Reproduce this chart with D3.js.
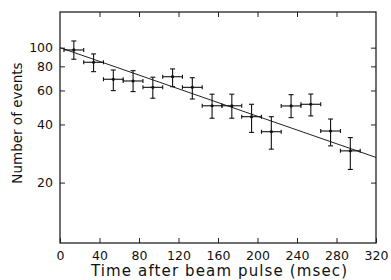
<!DOCTYPE html>
<html lang="en">
    <head>
        <meta charset="utf-8">
        <title>Events vs time</title>
        <script type="text/javascript" src="https://cdn.jsdelivr.net/npm/d3@7"></script>
        <style>
        body { margin: 0; background: #fff; }
        svg { display: block; }
        .axis path, .axis line { stroke: #222; }
        .axis text { font-family: "DejaVu Sans", sans-serif; font-size: 12.5px; fill: #111; }
        </style>
    </head>
    <body>
        <script type="text/javascript">
            // values
            var times = [14, 34, 54, 74, 94, 114, 134, 154, 174, 194, 214, 234, 254, 274, 294];
            var counts = [97.3, 84, 68.6, 67.2, 62.3, 70.7, 62.3, 50, 50, 43.9, 36.7, 49.9, 50.9, 37, 29.2];
            var countsHigh = [108.3, 92.8, 76.6, 76.0, 70.3, 77.6, 69.9, 57.4, 57.4, 50.9, 43.9, 57.1, 57.5, 42.7, 34.2];
            var countsLow = [87.1, 75.1, 59.9, 59.2, 54.7, 62.8, 54.2, 43.1, 43.1, 36.4, 29.8, 43.4, 44.3, 31.0, 23.4];
            var timeHalfWidth = 10;

            var fitTimes = [0, 320];
            var fitCounts = [100, 27];

            var xTicks = [0, 40, 80, 120, 160, 200, 240, 280, 320];
            var yTicks = [20, 40, 60, 80, 100];

            var w = 391;
            var h = 280;
            var pLeft = 60, pRight = 376, pTop = 12, pBottom = 243;

            var svg = d3.select("body")
                        .append("svg")
                        .attr("width", w)
                        .attr("height", h);

            var xScale = d3.scaleLinear()
                           .domain([0, 320])
                           .range([pLeft, pRight]);

            var yScale = d3.scaleLog()
                           .domain([9.73, 153])
                           .range([pBottom, pTop]);

            // frame
            svg.append("rect")
               .attr("x", pLeft)
               .attr("y", pTop)
               .attr("width", pRight - pLeft)
               .attr("height", pBottom - pTop)
               .attr("fill", "none")
               .attr("stroke", "#222")
               .attr("stroke-width", 1.3);

            var xAxis = d3.axisBottom(xScale)
                          .tickValues(xTicks)
                          .tickSize(-5)
                          .tickPadding(8)
                          .tickFormat(d3.format("d"));

            svg.append("g")
               .attr("class", "axis")
               .attr("transform", "translate(0," + pBottom + ")")
               .call(xAxis)
               .call(function(g) { g.select(".domain").remove(); });

            svg.append("g")
               .attr("class", "axis")
               .attr("transform", "translate(0," + pTop + ")")
               .call(d3.axisTop(xScale).tickValues(xTicks.slice(1, -1)).tickSize(-5).tickFormat(""))
               .call(function(g) { g.select(".domain").remove(); });

            var yAxis = d3.axisLeft(yScale)
                          .tickValues(yTicks)
                          .tickSize(-5)
                          .tickPadding(7)
                          .tickFormat(d3.format("d"));

            svg.append("g")
               .attr("class", "axis")
               .attr("transform", "translate(" + pLeft + ",0)")
               .call(yAxis)
               .call(function(g) { g.select(".domain").remove(); });

            svg.append("g")
               .attr("class", "axis")
               .attr("transform", "translate(" + pRight + ",0)")
               .call(d3.axisRight(yScale).tickValues(yTicks).tickSize(-5).tickFormat(""))
               .call(function(g) { g.select(".domain").remove(); });

            // fitted line
            var line = d3.line()
                         .x(function(d) { return xScale(d[0]); })
                         .y(function(d) { return yScale(d[1]); });

            svg.append("path")
               .datum(d3.zip(fitTimes, fitCounts))
               .attr("d", line)
               .attr("fill", "none")
               .attr("stroke", "#222")
               .attr("stroke-width", 1);

            // error bars
            var pts = times.map(function(t, i) {
                return { t: t, c: counts[i], lo: countsLow[i], hi: countsHigh[i] };
            });

            var g = svg.selectAll("g.pt")
                       .data(pts)
                       .enter()
                       .append("g")
                       .attr("class", "pt")
                       .attr("stroke", "#111")
                       .attr("stroke-width", 1.1);

            g.append("line")
             .attr("x1", function(d) { return xScale(d.t - timeHalfWidth); })
             .attr("x2", function(d) { return xScale(d.t + timeHalfWidth); })
             .attr("y1", function(d) { return yScale(d.c); })
             .attr("y2", function(d) { return yScale(d.c); });

            g.append("line")
             .attr("x1", function(d) { return xScale(d.t); })
             .attr("x2", function(d) { return xScale(d.t); })
             .attr("y1", function(d) { return yScale(d.hi); })
             .attr("y2", function(d) { return yScale(d.lo); });

            // caps
            [ -timeHalfWidth, timeHalfWidth ].forEach(function(off) {
                g.append("line")
                 .attr("x1", function(d) { return xScale(d.t + off); })
                 .attr("x2", function(d) { return xScale(d.t + off); })
                 .attr("y1", function(d) { return yScale(d.c) - 2; })
                 .attr("y2", function(d) { return yScale(d.c) + 2; });
            });
            ["lo", "hi"].forEach(function(k) {
                g.append("line")
                 .attr("x1", function(d) { return xScale(d.t) - 2.5; })
                 .attr("x2", function(d) { return xScale(d.t) + 2.5; })
                 .attr("y1", function(d) { return yScale(d[k]); })
                 .attr("y2", function(d) { return yScale(d[k]); });
            });

            g.append("circle")
             .attr("cx", function(d) { return xScale(d.t); })
             .attr("cy", function(d) { return yScale(d.c); })
             .attr("r", 1.6)
             .attr("fill", "#111")
             .attr("stroke", "none");

            // axis titles
            svg.append("text")
               .attr("x", 219)
               .attr("y", 276)
               .attr("text-anchor", "middle")
               .attr("font-family", "DejaVu Sans, sans-serif")
               .attr("font-size", "15px")
               .attr("textLength", 256)
               .attr("lengthAdjust", "spacing")
               .attr("fill", "#111")
               .text("Time after beam pulse (msec)");

            svg.append("text")
               .attr("transform", "translate(22,123) rotate(-90)")
               .attr("text-anchor", "middle")
               .attr("font-family", "DejaVu Sans, sans-serif")
               .attr("font-size", "13.5px")
               .attr("fill", "#111")
               .text("Number of events");
        </script>
    </body>
</html>
